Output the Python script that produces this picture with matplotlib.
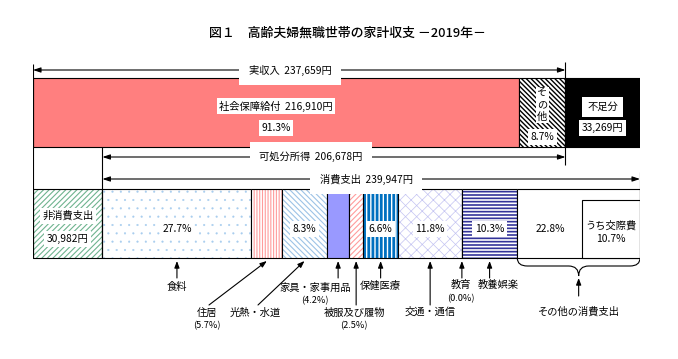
import matplotlib.pyplot as plt
from matplotlib.path import Path
import matplotlib.patches as mpatches

plt.rcParams['font.family'] = ['Noto Sans CJK JP', 'DejaVu Sans']

# ---- data (yen / month, 2019) ----
income_items = ['社会保障給付', 'その他', '不足分']
income_values = [216910, 20749, 33269]
income_share = [91.3, 8.7]
actual_income = 237659
disposable_income = 206678
non_consumption = 30982
consumption = 239947
cons_items = ['食料', '住居', '光熱・水道', '家具・家事用品', '被服及び履物',
              '保健医療', '交通・通信', '教育', '教養娯楽', 'その他の消費支出']
cons_share = [27.7, 5.7, 8.3, 4.2, 2.5, 6.6, 11.8, 0.0, 10.3, 22.8]
kosai_share = 10.7

total = sum(income_values)

fig = plt.figure(figsize=(6.78, 3.59), dpi=100)
ax = fig.add_axes([33 / 678, 0, 607 / 678, 1])
ax.set_xlim(0, total)
ax.set_ylim(359, 0)
ax.axis('off')
px = total / 607  # yen per pixel

FS = 7.4
white = dict(boxstyle='square,pad=0.25', fc='white', ec='none')


def seg(left, width, y0, y1, face='white', hatch=None, hc=None, hlw=0.8):
    yc, h = (y0 + y1) / 2, y1 - y0
    if hatch:
        with plt.rc_context({'hatch.linewidth': hlw}):
            b = ax.barh(yc, width, left=left, height=h, color=face,
                        edgecolor=hc, hatch=hatch, linewidth=0)
        for p in b:
            if hasattr(p, 'set_hatch_linewidth'):
                p.set_hatch_linewidth(hlw)
    else:
        ax.barh(yc, width, left=left, height=h, color=face, linewidth=0)
    ax.barh(yc, width, left=left, height=h, fill=False, edgecolor='black', linewidth=0.8)


def vline(x, y0, y1):
    ax.plot([x, x], [y0, y1], color='black', lw=0.8, solid_capstyle='butt')


def harrow(x0, x1, y, label, xt):
    ax.annotate('', xy=(x1, y), xytext=(x0, y),
                arrowprops=dict(arrowstyle='<|-|>,head_length=0.45,head_width=0.15',
                                lw=0.8, color='black', shrinkA=0, shrinkB=0))
    ax.text(xt, y, label, ha='center', va='center', fontsize=FS,
            bbox=dict(boxstyle='square,pad=0.9', fc='white', ec='none'))


# title
ax.text(347 * px - 33 * px, 33, '図１　高齢夫婦無職世帯の家計収支 －2019年－',
        ha='center', va='center', fontsize=9.3, fontweight='medium')

# ---- upper bar: income ----
top0, top1 = 78, 147
top_styles = [dict(face='#ff7f7f'),
              dict(hatch='\\\\\\\\\\\\\\', hc='black', hlw=1.0),
              dict(face='black')]
lefts = [0]
for v in income_values[:-1]:
    lefts.append(lefts[-1] + v)
for l, v, st in zip(lefts, income_values, top_styles):
    seg(l, v, top0, top1, **st)

c0 = lefts[0] + income_values[0] / 2
ax.text(c0, 106, f'{income_items[0]}  {income_values[0]:,}円', ha='center', va='center',
        fontsize=FS, bbox=white)
ax.text(c0, 128, f'{income_share[0]}%', ha='center', va='center', fontsize=FS, bbox=white)
c1 = lefts[1] + income_values[1] / 2
ax.text(c1, 105, '\n'.join(income_items[1]), ha='center', va='center', fontsize=FS,
        linespacing=1.2, bbox=dict(boxstyle='square,pad=0.15', fc='white', ec='none'))
ax.text(c1, 137, f'{income_share[1]}%', ha='center', va='center', fontsize=FS, bbox=white)
c2 = lefts[2] + income_values[2] / 2
ax.text(c2, 107, income_items[2], ha='center', va='center', fontsize=FS,
        bbox=dict(boxstyle='square,pad=0.5', fc='white', ec='none'))
ax.text(c2, 128, f'{income_values[2]:,}円', ha='center', va='center', fontsize=FS, bbox=white)

# ---- lower bar: expenditure ----
bot0, bot1 = 189, 258
seg(0, non_consumption, bot0, bot1, hatch='//////', hc='#6fb38f', hlw=0.8)
nc = non_consumption / 2
ax.text(nc, 216, '非消費支出', ha='center', va='center', fontsize=FS, bbox=white)
ax.text(nc, 239, f'{non_consumption:,}円', ha='center', va='center', fontsize=FS, bbox=white)

cons_styles = [dict(hatch='..', hc='#a8cdee', hlw=0.3),
               dict(hatch='||||||', hc='#ff9c9c', hlw=0.8),
               dict(hatch='\\\\\\\\\\\\', hc='#9dc3e6', hlw=0.8),
               dict(face='#9999ff'),
               dict(hatch='//////', hc='#ff9c9c', hlw=0.8),
               dict(hatch='||||', hc='#0070c0', hlw=2.0),
               dict(hatch='xxx', hc='#c4c4f2', hlw=0.5),
               dict(face='white'),
               dict(hatch='-----', hc='#333399', hlw=1.2),
               dict(face='white')]
scale = consumption / sum(cons_share)
widths = [s * scale for s in cons_share]
cl = [non_consumption]
for w in widths[:-1]:
    cl.append(cl[-1] + w)
for l, w, st in zip(cl, widths, cons_styles):
    seg(l, w, bot0, bot1, **st)

end = non_consumption + consumption
kw = kosai_share * consumption / 100
ax.barh((200 + bot1) / 2, kw, left=end - kw, height=bot1 - 200, color='white',
        edgecolor='black', linewidth=0.8)
ax.text(end - kw / 2, 226, 'うち交際費', ha='center', va='center', fontsize=FS)
ax.text(end - kw / 2, 239, f'{kosai_share}%', ha='center', va='center', fontsize=FS)

for i, (l, w, s) in enumerate(zip(cl, widths, cons_share)):
    if s >= 6:
        xc = l + w / 2
        if i == len(cons_share) - 1:
            xc = (l + end - kw) / 2
        ax.text(xc, 229, f'{s}%', ha='center', va='center', fontsize=FS, bbox=white)

# ---- frame lines and arrows ----
vline(0, 64, bot1)
vline(income_values[0] + income_values[1], 62, 165)
vline(non_consumption, top1, bot1)
vline(end, 172, bot1)
harrow(0, actual_income, 70, f'実収入  {actual_income:,}円', 290 * px - 33 * px)
harrow(non_consumption, non_consumption + disposable_income, 157,
       f'可処分所得  {disposable_income:,}円', 311 * px - 33 * px)
harrow(non_consumption, end, 179, f'消費支出  {consumption:,}円', 366 * px - 33 * px)

# ---- labels below ----
# (text x px, text y, arrow tail x px or None for vertical, tail y, pct y or None)
lab = [(177, 287, None, 278, None),
       (207, 313, 209, 305, 326),
       (255, 313, 258, 305, None),
       (315, 288, None, 278, 301),
       (354, 313, None, 305, 326),
       (380, 286, None, 278, None),
       (430, 312, None, 305, None),
       (461, 285, None, 278, 299),
       (498, 285, None, 278, None)]
aprops = dict(arrowstyle='-|>,head_length=0.4,head_width=0.15', lw=0.8, color='black',
              shrinkA=0, shrinkB=0)
for i, (tx, ty, ax_px, tail_y, py) in enumerate(lab):
    xc = cl[i] + widths[i] / 2
    tail_x = xc if ax_px is None else (ax_px - 33) * px
    ax.annotate('', xy=(xc, 261), xytext=(tail_x, tail_y), arrowprops=aprops)
    ax.text((tx - 33) * px, ty, cons_items[i], ha='center', va='center', fontsize=FS)
    if py:
        ax.text((tx - 33) * px, py, f'({cons_share[i]}%)', ha='center', va='center',
                fontsize=6.6)

# brace under その他の消費支出
x0, x1 = cl[-1], end
xm = (x0 + x1) / 2
d = 10 * px
y0, y1, y2 = bot1, 266, 276
verts = [(x0, y0), (x0, y1), (x0 + d, y1), (xm - d, y1), (xm, y1), (xm, y2),
         (xm, y1), (xm + d, y1), (x1 - d, y1), (x1, y1), (x1, y0)]
codes = [Path.MOVETO, Path.CURVE3, Path.CURVE3, Path.LINETO, Path.CURVE3, Path.CURVE3,
         Path.CURVE3, Path.CURVE3, Path.LINETO, Path.CURVE3, Path.CURVE3]
ax.add_patch(mpatches.PathPatch(Path(verts, codes), fill=False, lw=0.8, ec='black'))
ax.annotate('', xy=(xm, 278), xytext=(xm, 296), arrowprops=aprops)
ax.text(xm, 312, cons_items[-1], ha='center', va='center', fontsize=FS)

fig.savefig('out.png', dpi=100)
